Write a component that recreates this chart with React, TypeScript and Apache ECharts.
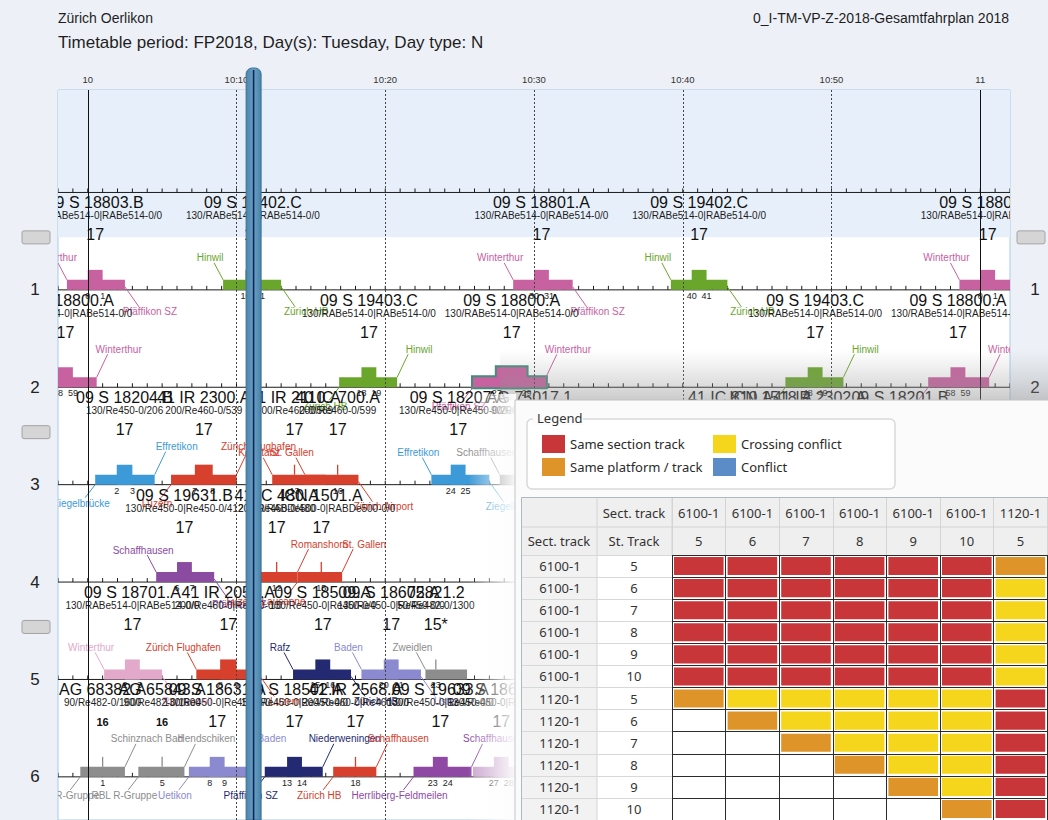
import React, { useEffect, useRef } from 'react';
import * as echarts from 'echarts';

// ---------------- header texts ----------------
const stationTitle = 'Zürich Oerlikon';
const periodTitle = 'Timetable period: FP2018, Day(s): Tuesday, Day type: N';
const planTitle = '0_I-TM-VP-Z-2018-Gesamtfahrplan 2018';

// ---------------- time axis (minutes after 10:00) ----------------
const timeRange = [-2, 62];
const timeTicks = [0, 10, 20, 30, 40, 50, 60];
const timeTickLabels = ['10', '10:10', '10:20', '10:30', '10:40', '10:50', '11'];
const hourLines = [0, 60];
const tenMinuteLines = [10, 20, 30, 40, 50];
const nowMinute = 11.15;

// ---------------- tracks ----------------
const rowRange = [-1.052, 6.443];
const trackRows = [0, 1, 2, 3, 4, 5, 6];
const trackLabels = [1, 2, 3, 4, 5, 6];
const handleRows = [1, 3, 5];
const selectedBand = [-1.052, 0.461];

// ---------------- train occupations ----------------
// [track, occupation start, stop start, stop end, occupation end] (minutes after 10:00)
const trainTimes = [
  [1, -1.4, 0, 1, 2.5],
  [1, 9.1, 10.6, 11.6, 13.0],
  [1, 28.6, 30, 31, 32.6],
  [1, 39.2, 40.6, 41.6, 43.0],
  [1, 58.6, 60, 61, 62.6],
  [2, -3.5, -2, -1, 0.6],
  [2, 16.9, 18.4, 19.4, 20.8],
  [2, 25.9, 27.5, 29.5, 30.8],
  [2, 46.9, 48.4, 49.4, 50.8],
  [2, 56.5, 58, 59, 60.6],
  [3, 0.5, 1.95, 3.0, 4.5],
  [3, 5.6, 7.2, 8.4, 10.0],
  [3, 12.4, 13.9, 13.9, 16.0],
  [3, 14.6, 16.8, 16.8, 18.2],
  [3, 23.1, 24.4, 25.4, 27.0],
  [3, 27.7, 29.7, 29.7, 31.7],
  [3, 41.7, 43.2, 43.2, 45.2],
  [3, 44.4, 45.9, 45.9, 47.8],
  [3, 47.2, 48.7, 49.7, 51.2],
  [3, 53.1, 54.1, 55.1, 56.6],
  [4, 4.6, 6, 7, 8.5],
  [4, 11.3, 12.7, 12.7, 14.1],
  [4, 14.1, 15.7, 15.7, 17.1],
  [5, 1.1, 2.5, 3.5, 5.0],
  [5, 7.3, 8.9, 10.0, 11.6],
  [5, 13.8, 15.3, 16.3, 17.7],
  [5, 18.4, 19.9, 20.9, 22.4],
  [5, 22.7, 23.4, 23.4, 25.5],
  [6, -0.5, 1, 1, 2.5],
  [6, 3.4, 5, 5, 6.5],
  [6, 6.8, 8.2, 9.2, 10.9],
  [6, 11.9, 13.4, 14.4, 15.8],
  [6, 16.5, 18, 18, 19.4],
  [6, 21.9, 23.2, 24.2, 25.8],
  [6, 25.9, 27.3, 28.3, 30.0],
];
const trainLines = [
  'pink', 'green', 'pink', 'green', 'pink',
  'pink', 'green', 'pink', 'green', 'pink',
  'blue', 'red', 'red', 'red', 'blue', 'gray', 'red', 'red', 'red', 'blue',
  'purple', 'red', 'red',
  'rose', 'red', 'navy', 'lavender', 'gray',
  'gray', 'gray', 'lavender', 'navy', 'red', 'violet', 'lilac',
];
const trainNames = [
  '09 S 18803.B', '09 S 19402.C', '09 S 18801.A', '09 S 19402.C', '09 S 18803.B',
  '09 S 18800.A', '09 S 19403.C', '09 S 18800.A', '09 S 19403.C', '09 S 18800.A',
  '09 S 18204.B', '41 IR 2300.A', '41 IR 2110.A', '40 IC 700.A', '09 S 18207.A', 'AG 75017.1',
  '41 IC 810.A', 'ICN 1518.A', '41 IR 2302.A', '09 S 18201.B',
  '09 S 19631.B', '41 IC 480.A', 'ICN 1501.A',
  '09 S 18701.A', '41 IR 2050.A', '09 S 18509.A', '09 S 18605.A', '72821.2',
  'AG 68382.A', 'AG 65843.A', '09 S 18631.A', '09 S 18502.A', '41 IR 2568.A', '09 S 19633.A', '09 S 18634.A',
];
const trainUnits = [
  '130/RABe514-0|RABe514-0/0', '130/RABe514-0|RABe514-0/0', '130/RABe514-0|RABe514-0/0',
  '130/RABe514-0|RABe514-0/0', '130/RABe514-0|RABe514-0/0',
  '130/RABe514-0|RABe514-0/0', '130/RABe514-0|RABe514-0/0', '130/RABe514-0|RABe514-0/0',
  '130/RABe514-0|RABe514-0/0', '130/RABe514-0|RABe514-0/0',
  '130/Re450-0/206', '200/Re460-0/539', '200/Re460-0/569', '200/Re460-0/599',
  '130/Re450-0|Re450-0/206', '90/Re482-0/1600',
  '200/Re460-0/599', '120/RABDe500-0|RABDe500-0/0', '200/Re460-0/539', '130/Re450-0/206',
  '130/Re450-0|Re450-0/412', '200/Re460-0/480', '120/RABDe500-0|RABDe500-0/0',
  '130/RABe514-0|RABe514-0/0', '200/Re460-0|Re460-0/0', '130/Re450-0|Re450-0/0',
  '130/Re450-0|Re450-0/0', '50/Re482-0/1300',
  '90/Re482-0/1600', '90/Re482-0/1600', '130/Re450-0|Re450-0/0', '130/Re450-0|Re450-0/0',
  '200/Re460-0|Re460-0/0', '130/Re450-0|Re450-0/0', '130/Re450-0|Re450-0/0',
];
const trainLengths = [
  '17', '17', '17', '17', '17',
  '17', '17', '17', '17', '17',
  '17', '17', '17', '17', '17', '16', '17', '17', '17', '17',
  '17', '17', '17',
  '17', '17', '17', '17', '15*',
  '16', '16', '17', '17', '17', '17', '17',
];
const trainStopLabels = [
  ['0', '1'], ['10', '11'], ['30', '31'], ['40', '41'], ['0', '1'],
  ['58', '59'], ['18', '19'], ['27', '29'], ['48', '49'], ['58', '59'],
  ['2', '3'], ['7', '8'], ['13'], ['16'], ['24', '25'], ['29'], ['43'], ['45'], ['48', '49'], ['54', '55'],
  ['6', '7'], ['12'], ['15'],
  ['2', '3'], ['8', '9'], ['15', '16'], ['20', '21'], ['23'],
  ['1'], ['5'], ['8', '9'], ['13', '14'], ['18'], ['23', '24'], ['27', '28'],
];
// [station, side]  ul = above start, dl = below start, ur = above end, dr = below end
const trainFrom: (string[] | null)[] = [
  ['Winterthur', 'ul'], ['Hinwil', 'ul'], ['Winterthur', 'ul'], ['Hinwil', 'ul'], ['Winterthur', 'ul'],
  null, ['Zürich HB', 'dl'], ['Pfäffikon SZ', 'dl'], ['Zürich HB', 'dl'], ['Pfäffikon SZ', 'dl'],
  ['Ziegelbrücke', 'dl'], ['Luzern', 'dl'], ['Konstanz', 'ul'], ['St. Gallen', 'ul'], ['Effretikon', 'ul'],
  ['Schaffhausen', 'ul'], null, null, null, null,
  ['Schaffhausen', 'ul'], ['Luzern', 'dl'], ['Lausanne', 'dl'],
  ['Winterthur', 'ul'], ['Zürich Flughafen', 'ul'], ['Rafz', 'ul'], ['Baden', 'ul'], ['Zweidlen', 'ul'],
  ['RBL R-Gruppe', 'dl'], ['RBL R-Gruppe', 'dl'], ['Uetikon', 'dl'], ['Pfäffikon SZ', 'dl'], ['Zürich HB', 'dl'],
  ['Herrliberg-Feldmeilen', 'dl'], null,
];
const trainTo: (string[] | null)[] = [
  ['Pfäffikon SZ', 'dr'], ['Zürich HB', 'dr'], ['Pfäffikon SZ', 'dr'], ['Zürich HB', 'dr'], null,
  ['Winterthur', 'ur'], ['Hinwil', 'ur'], ['Winterthur', 'ur'], ['Hinwil', 'ur'], ['Winterthur', 'ur'],
  ['Effretikon', 'ur'], ['Zürich Flughafen', 'ur'], null, ['Zürich Airport', 'dr'], ['Ziegelbrücke', 'dr'],
  null, null, null, null, null,
  ['Pfäffikon SZ', 'dr'], ['Romanshorn', 'ur'], ['St. Gallen', 'ur'],
  ['Rapperswil', 'dr'], ['Luzern', 'dr'], ['Zürich HB', 'dr'], ['Uster', 'dr'], null,
  ['Schinznach Bad', 'ur'], ['Hendschiken', 'ur'], ['Baden', 'ur'], ['Niederweningen', 'ur'], ['Schaffhausen', 'ur'],
  ['Schaffhausen', 'ur'], null,
];
const selectedTrain = 7;

// ---------------- conflict matrix ----------------
const tableRowSections = ['6100-1', '6100-1', '6100-1', '6100-1', '6100-1', '6100-1', '1120-1', '1120-1', '1120-1', '1120-1', '1120-1', '1120-1'];
const tableRowTracks = ['5', '6', '7', '8', '9', '10', '5', '6', '7', '8', '9', '10'];
const tableColSections = ['6100-1', '6100-1', '6100-1', '6100-1', '6100-1', '6100-1', '1120-1'];
const tableColTracks = ['5', '6', '7', '8', '9', '10', '5'];
// 0 none, 1 same section track, 2 same platform / track, 3 crossing conflict
const conflictMatrix = [
  [1, 1, 1, 1, 1, 1, 2],
  [1, 1, 1, 1, 1, 1, 3],
  [1, 1, 1, 1, 1, 1, 3],
  [1, 1, 1, 1, 1, 1, 3],
  [1, 1, 1, 1, 1, 1, 3],
  [1, 1, 1, 1, 1, 1, 3],
  [2, 3, 3, 3, 3, 3, 1],
  [0, 2, 3, 3, 3, 3, 1],
  [0, 0, 2, 3, 3, 3, 1],
  [0, 0, 0, 2, 3, 3, 1],
  [0, 0, 0, 0, 2, 3, 1],
  [0, 0, 0, 0, 0, 2, 1],
];
const legendItems = ['Same section track', 'Same platform / track', 'Crossing conflict', 'Conflict'];
const legendTypes = [1, 2, 3, 4];

// ---------------- styles ----------------
const SANS = "'Liberation Sans', Arial, Helvetica, sans-serif";
const UI = "'Noto Sans', 'Open Sans', sans-serif";
const lineColors: Record<string, string> = {
  pink: '#c8619f', green: '#6aa62c', blue: '#3d9ad8', red: '#d6402d', purple: '#8b4ba0',
  rose: '#e2a9cb', navy: '#242a72', lavender: '#8b89cf', gray: '#8d8d8d', violet: '#8f49a5', lilac: '#cba3cf',
};
const conflictColors = ['#ffffff', '#c8363a', '#de9429', '#f6d61c', '#5b8cc8'];
const LOW_H = 10;
const HIGH_H = 20;
const TICK_H = 4;
const PANEL_TOP = 400;

function txt(x: number, y: number, text: string, size: number, fill: string, align = 'center', weight = 'normal', family = SANS, z?: number) {
  const el: any = {
    type: 'text', x, y, silent: true,
    style: { text, fill, fontSize: size, fontFamily: family, fontWeight: weight, align, textAlign: align, verticalAlign: 'middle', textVerticalAlign: 'middle' },
  };
  if (z !== undefined) el.z = z;
  return el;
}

function renderTrack(params: any, api: any) {
  const cs = params.coordSys;
  const row = api.value(1);
  const yb = api.coord([0, row])[1];
  const children: any[] = [
    { type: 'line', shape: { x1: cs.x, y1: yb, x2: cs.x + cs.width, y2: yb }, style: { stroke: '#1b1b1b', lineWidth: 1 } },
  ];
  for (let m = Math.ceil(timeRange[0]); m <= timeRange[1]; m++) {
    const x = api.coord([m, row])[0];
    children.push({ type: 'line', shape: { x1: x, y1: yb, x2: x, y2: yb - TICK_H }, style: { stroke: '#1b1b1b', lineWidth: 1 } });
  }
  return { type: 'group', children };
}

function renderHandle(params: any, api: any) {
  const cs = params.coordSys;
  const yb = api.coord([0, api.value(1)])[1];
  const mk = (x: number) => ({ type: 'rect', shape: { x, y: yb - 59, width: 28, height: 13, r: 2 }, style: { fill: '#d5d5d5', stroke: '#a3a3a3', lineWidth: 1 } });
  return { type: 'group', children: [mk(cs.x - 36), mk(cs.x + cs.width + 7)] };
}

function renderTrain(params: any, api: any) {
  const i = api.value(5);
  const row = api.value(1);
  const p0 = api.coord([api.value(0), row]);
  const xs = p0[0];
  const yb = p0[1];
  const xa = api.coord([api.value(2), row])[0];
  const xd = api.coord([api.value(3), row])[0];
  const xe = api.coord([api.value(4), row])[0];
  const color = lineColors[trainLines[i]];
  const ch: any[] = [];
  const lowShape = { x: xs, y: yb - LOW_H, width: xe - xs, height: LOW_H };
  const highShape = { x: xa, y: yb - HIGH_H, width: Math.max(xd - xa, 0), height: HIGH_H };
  const hasStop = xd - xa > 0.5;
  if (i === selectedTrain) {
    ch.push({ type: 'rect', shape: lowShape, style: { fill: color, stroke: '#3f8f7a', lineWidth: 4 } });
    if (hasStop) ch.push({ type: 'rect', shape: highShape, style: { fill: color, stroke: '#3f8f7a', lineWidth: 4 } });
  }
  ch.push({ type: 'rect', shape: lowShape, style: { fill: color } });
  if (hasStop) ch.push({ type: 'rect', shape: highShape, style: { fill: color } });
  else ch.push({ type: 'line', shape: { x1: xa, y1: yb - LOW_H, x2: xa, y2: yb - HIGH_H }, style: { stroke: color, lineWidth: 1.3 } });

  const station = (lab: string[] | null) => {
    if (!lab) return;
    const [name, side] = lab;
    let line: number[];
    let tx: number;
    let ty: number;
    if (side === 'ul') { line = [xs, yb - LOW_H, xs - 9, yb - 27]; tx = xs - 13; ty = yb - 32; }
    else if (side === 'ur') { line = [xe, yb - LOW_H, xe + 11, yb - 33]; tx = xe + 22; ty = yb - 38; }
    else if (side === 'dl') { line = [xs, yb, xs - 10, yb + 13]; tx = xs - 14; ty = yb + 19; }
    else { line = [xe, yb - 3, xe + 14, yb + 17]; tx = xe + 25; ty = yb + 22; }
    ch.push({ type: 'line', shape: { x1: line[0], y1: line[1], x2: line[2], y2: line[3] }, style: { stroke: color, lineWidth: 1 } });
    ch.push(txt(tx, ty, name, 10, color));
  };
  station(trainFrom[i]);
  station(trainTo[i]);

  const cx = (xa + xd) / 2;
  ch.push(txt(cx, yb - 87, trainNames[i], 16, '#111'));
  ch.push(txt(cx, yb - 74, trainUnits[i], 10, '#1d1d1d'));
  const small = trainLengths[i] === '16';
  ch.push(txt(cx, yb - 55, trainLengths[i], small ? 11 : 16, '#111', 'center', small ? 'bold' : 'normal'));
  const stops = trainStopLabels[i];
  stops.forEach((s, k) => ch.push(txt(k === 0 ? xa : xd, yb + 6, s, 9, '#222')));
  return { type: 'group', children: ch };
}

function renderNow(params: any, api: any) {
  const cs = params.coordSys;
  const x = api.coord([api.value(0), 0])[0];
  const grad = new echarts.graphic.LinearGradient(0, 0, 1, 0, [
    { offset: 0, color: '#4a82a9' }, { offset: 0.5, color: '#6aa2c6' }, { offset: 1, color: '#4a82a9' },
  ]);
  return {
    type: 'group',
    children: [
      { type: 'rect', shape: { x: x - 7.5, y: cs.y - 22, width: 15, height: cs.height + 22, r: [6, 6, 0, 0] }, style: { fill: grad, stroke: '#3f7399', lineWidth: 1 } },
      { type: 'line', shape: { x1: x, y1: cs.y - 20, x2: x, y2: cs.y + cs.height }, style: { stroke: '#0f2458', lineWidth: 1.6 } },
    ],
  };
}

function renderCell(params: any, api: any) {
  const v = api.value(2);
  const c = api.coord([api.value(0), api.value(1)]);
  const s = api.size([1, 1]);
  return {
    type: 'rect',
    shape: { x: c[0] - s[0] / 2 + 2, y: c[1] - s[1] / 2 + 2, width: s[0] - 4, height: s[1] - 4 },
    style: { fill: conflictColors[v] },
  };
}

function buildOption() {
  const trainData = trainTimes.map((t, i) => [t[1], t[0], t[2], t[3], t[4], i]);
  const cellData: number[][] = [];
  conflictMatrix.forEach((row, r) => row.forEach((v, c) => cellData.push([c, r, v])));

  const legendGraphics: any[] = [
    { type: 'rect', z: 52, silent: true, shape: { x: 527, y: 419, width: 368, height: 70, r: 5 }, style: { fill: '#ffffff', stroke: '#d9d9d9', lineWidth: 1.5 } },
    { type: 'rect', z: 53, silent: true, shape: { x: 533, y: 411, width: 50, height: 14 }, style: { fill: '#fbfbfb' } },
    txt(537, 418, 'Legend', 13, '#333', 'left', 'normal', UI, 54),
  ];
  legendItems.forEach((label, k) => {
    const col = k < 2 ? 0 : 1;
    const rowi = k % 2;
    const sx = col === 0 ? 542 : 713;
    const sy = rowi === 0 ? 435 : 458;
    legendGraphics.push({ type: 'rect', z: 54, silent: true, shape: { x: sx, y: sy, width: 23, height: 18 }, style: { fill: conflictColors[legendTypes[k]] } });
    legendGraphics.push(txt(sx + 28, sy + 9, label, 13, '#2a2a2a', 'left', 'normal', UI, 54));
  });

  const tableGraphics: any[] = [
    { type: 'rect', z: 55, silent: true, shape: { x: 521, y: 497, width: 540, height: 58 }, style: { fill: '#efefef' } },
    { type: 'rect', z: 55, silent: true, shape: { x: 521, y: 555, width: 76, height: 270 }, style: { fill: '#f2f2f2' } },
    { type: 'rect', z: 55, silent: true, shape: { x: 597, y: 555, width: 75, height: 270 }, style: { fill: '#ffffff' } },
    { type: 'rect', z: 55, silent: true, shape: { x: 672, y: 555, width: 380, height: 270 }, style: { fill: '#ffffff' } },
    { type: 'line', z: 56, silent: true, shape: { x1: 521, y1: 527, x2: 1048, y2: 527 }, style: { stroke: '#d4d4d4', lineWidth: 1 } },
    { type: 'line', z: 56, silent: true, shape: { x1: 597, y1: 497, x2: 597, y2: 825 }, style: { stroke: '#d4d4d4', lineWidth: 1 } },
    { type: 'line', z: 56, silent: true, shape: { x1: 672, y1: 497, x2: 672, y2: 555 }, style: { stroke: '#d4d4d4', lineWidth: 1 } },
    { type: 'rect', z: 57, silent: true, shape: { x: 521.5, y: 497.5, width: 540, height: 340 }, style: { fill: 'none', stroke: '#aeb9c6', lineWidth: 1 } },
    txt(634, 513, 'Sect. track', 13, '#333', 'center', 'normal', UI, 70),
    txt(559, 541, 'Sect. track', 13, '#333', 'center', 'normal', UI, 70),
    txt(634, 541, 'St. Track', 13, '#333', 'center', 'normal', UI, 70),
  ];

  const graphic = [
    {
      type: 'rect', z: 48, silent: true, shape: { x: 500, y: PANEL_TOP - 50, width: 548, height: 50 },
      style: { fill: new echarts.graphic.LinearGradient(0, 0, 0, 1, [{ offset: 0, color: 'rgba(160,160,160,0)' }, { offset: 1, color: 'rgba(140,140,140,0.45)' }]) },
    },
    {
      type: 'rect', z: 49, silent: true, shape: { x: 468, y: PANEL_TOP - 6, width: 48, height: 430 },
      style: { fill: new echarts.graphic.LinearGradient(0, 0, 1, 0, [{ offset: 0, color: 'rgba(255,255,255,0)' }, { offset: 1, color: 'rgba(252,252,252,0.97)' }]) },
    },
    { type: 'rect', z: 50, silent: true, shape: { x: 515, y: PANEL_TOP, width: 545, height: 430 }, style: { fill: '#fbfbfb', stroke: '#c4c4c4', lineWidth: 1 } },
    ...legendGraphics,
    ...tableGraphics,
  ];

  const catLabel = (names: string[]) => (_v: any, idx: number) => names[idx];

  return {
    animation: false,
    backgroundColor: '#edf1f7',
    textStyle: { fontFamily: SANS },
    title: [
      { text: stationTitle, left: 58, top: 11, padding: 0, textStyle: { fontSize: 14, fontWeight: 'normal', color: '#1e1e1e', fontFamily: SANS } },
      { text: periodTitle, left: 58, top: 34, padding: 0, textStyle: { fontSize: 17, fontWeight: 'normal', color: '#1e1e1e', fontFamily: SANS } },
      { text: planTitle, right: 39, top: 11, padding: 0, textStyle: { fontSize: 14, fontWeight: 'normal', color: '#1e1e1e', fontFamily: SANS } },
    ],
    grid: [
      { left: 58, top: 90, width: 952, height: 733, show: true, backgroundColor: '#ffffff', borderColor: '#a8cbe9', borderWidth: 1 },
      { left: 672, top: 555, width: 375.2, height: 277.2 },
    ],
    xAxis: [
      {
        type: 'value', gridIndex: 0, position: 'top', min: timeRange[0], max: timeRange[1],
        axisLine: { show: false }, axisTick: { show: false }, splitLine: { show: false },
        axisLabel: {
          customValues: timeTicks, fontSize: 9.5, color: '#333', margin: 6, fontFamily: SANS,
          formatter: (v: number) => timeTickLabels[timeTicks.indexOf(v)],
        },
      },
      {
        type: 'category', gridIndex: 1, position: 'top', z: 60,
        data: tableColTracks.map((_, i) => String(i)),
        axisLine: { show: false },
        axisTick: { show: true, interval: 0, length: 57, lineStyle: { color: '#d4d4d4' } },
        axisLabel: { interval: 0, formatter: catLabel(tableColTracks), margin: 7.5, fontSize: 13, color: '#333', fontFamily: UI },
        splitLine: { show: true, interval: 0, lineStyle: { color: '#2b2b2b', width: 1 } },
      },
      {
        type: 'category', gridIndex: 1, position: 'top', offset: 28, z: 60,
        data: tableColSections.map((_, i) => String(i)),
        axisLine: { show: false }, axisTick: { show: false }, splitLine: { show: false },
        axisLabel: { interval: 0, formatter: catLabel(tableColSections), margin: 7.5, fontSize: 13, color: '#333', fontFamily: UI },
      },
    ],
    yAxis: [
      {
        type: 'value', gridIndex: 0, position: 'left', inverse: true, min: rowRange[0], max: rowRange[1],
        axisLine: { show: false }, axisTick: { show: false }, splitLine: { show: false },
        axisLabel: { customValues: trackLabels, fontSize: 17, color: '#222', margin: 23, align: 'center', fontFamily: SANS },
      },
      {
        type: 'value', gridIndex: 0, position: 'right', inverse: true, min: rowRange[0], max: rowRange[1],
        axisLine: { show: false }, axisTick: { show: false }, splitLine: { show: false },
        axisLabel: { customValues: trackLabels, fontSize: 17, color: '#222', margin: 25, align: 'center', fontFamily: SANS },
      },
      {
        type: 'category', gridIndex: 1, position: 'left', inverse: true, z: 60,
        data: tableRowTracks.map((_, i) => String(i)),
        axisLine: { show: false },
        axisTick: { show: true, interval: 0, length: 150, lineStyle: { color: '#d8d8d8' } },
        axisLabel: { interval: 0, formatter: catLabel(tableRowTracks), margin: 38, align: 'center', fontSize: 13, color: '#333', fontFamily: UI },
        splitLine: { show: true, interval: 0, lineStyle: { color: '#2b2b2b', width: 1 } },
      },
      {
        type: 'category', gridIndex: 1, position: 'left', inverse: true, z: 60,
        data: tableRowSections.map((_, i) => String(i)),
        axisLine: { show: false }, axisTick: { show: false }, splitLine: { show: false },
        axisLabel: { interval: 0, formatter: catLabel(tableRowSections), margin: 112, align: 'center', fontSize: 13, color: '#333', fontFamily: UI },
      },
    ],
    series: [
      {
        type: 'line', xAxisIndex: 0, yAxisIndex: 0, data: [], z: 1, silent: true,
        markArea: { silent: true, itemStyle: { color: '#e7f0fa' }, data: [[{ yAxis: selectedBand[0] }, { yAxis: selectedBand[1] }]] },
        markLine: {
          silent: true, symbol: ['none', 'none'], label: { show: false },
          data: [
            ...hourLines.map((v) => ({ xAxis: v, lineStyle: { type: 'solid', color: '#111', width: 1 } })),
            ...tenMinuteLines.map((v) => ({ xAxis: v, lineStyle: { type: [2, 2], color: '#444', width: 1 } })),
          ],
        },
      },
      {
        type: 'custom', name: 'tracks', xAxisIndex: 0, yAxisIndex: 0, clip: true, silent: true, z: 2,
        data: trackRows.map((r) => [timeRange[0], r]), encode: { x: 0, y: 1 }, renderItem: renderTrack,
      },
      {
        type: 'custom', name: 'handles', xAxisIndex: 0, yAxisIndex: 0, clip: false, silent: true, z: 2,
        data: handleRows.map((r) => [timeRange[0], r]), encode: { x: 0, y: 1 }, renderItem: renderHandle,
      },
      {
        type: 'custom', name: 'trains', xAxisIndex: 0, yAxisIndex: 0, clip: true, silent: true, z: 3,
        data: trainData, encode: { x: [0, 2, 3, 4], y: 1 }, renderItem: renderTrain,
      },
      {
        type: 'custom', name: 'now', xAxisIndex: 0, yAxisIndex: 0, clip: false, silent: true, z: 30,
        data: [[nowMinute, 0]], encode: { x: 0, y: 1 }, renderItem: renderNow,
      },
      {
        type: 'custom', name: 'conflicts', xAxisIndex: 1, yAxisIndex: 2, clip: false, silent: true, z: 65,
        data: cellData, encode: { x: 0, y: 1 }, renderItem: renderCell,
      },
    ],
    graphic,
  };
}

export default function App() {
  const ref = useRef<HTMLDivElement>(null);
  useEffect(() => {
    const chart = echarts.init(ref.current as HTMLDivElement, undefined, { renderer: 'svg', width: 1048, height: 820 });
    chart.setOption(buildOption() as any);
    return () => chart.dispose();
  }, []);
  return <div ref={ref} style={{ position: 'fixed', left: 0, top: 0, width: 1048, height: 820 }} />;
}
